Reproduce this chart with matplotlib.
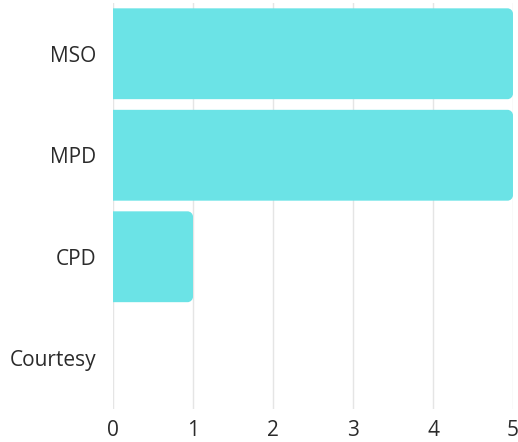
import matplotlib
matplotlib.use("Agg")
import matplotlib.pyplot as plt
from matplotlib.path import Path
from matplotlib.patches import PathPatch

categories = ["MSO", "MPD", "CPD", "Courtesy"]
counts = [5, 5, 1, 0]
x_ticks = [0, 1, 2, 3, 4, 5]

bar_color = "#6be3e6"
grid_color = "#e5e5e5"
text_color = "#2b2b2b"

plt.rcParams["font.family"] = ["Open Sans", "DejaVu Sans"]

fig = plt.figure(figsize=(5.18, 4.42), dpi=100)
ax = fig.add_axes([113 / 518, 1 - 409 / 442, 400 / 518, 406 / 442])

ypos = list(range(len(categories)))
bars = ax.barh(ypos, counts, height=0.895, color=bar_color, zorder=2)
ax.set_xlim(0, 5)
ax.set_ylim(len(categories) - 0.5, -0.5)

# Replace each bar with a shape rounded on its right-hand corners only
fig.canvas.draw()
px_per_x = ax.transData.transform((1, 0))[0] - ax.transData.transform((0, 0))[0]
px_per_y = abs(ax.transData.transform((0, 1))[1] - ax.transData.transform((0, 0))[1])
radius_px = 5.5
k = 0.5523
for rect in bars.patches:
    w = rect.get_width()
    if w <= 0:
        rect.set_visible(False)
        continue
    x0, y0 = rect.get_x(), rect.get_y()
    h = rect.get_height()
    x1, y1 = x0 + w, y0 + h
    rx = min(radius_px / px_per_x, w / 2)
    ry = min(radius_px / px_per_y, h / 2)
    verts = [
        (x0, y0),
        (x1 - rx, y0),
        (x1 - rx + k * rx, y0), (x1, y0 + ry - k * ry), (x1, y0 + ry),
        (x1, y1 - ry),
        (x1, y1 - ry + k * ry), (x1 - rx + k * rx, y1), (x1 - rx, y1),
        (x0, y1),
        (x0, y0),
    ]
    codes = [Path.MOVETO, Path.LINETO,
             Path.CURVE4, Path.CURVE4, Path.CURVE4,
             Path.LINETO,
             Path.CURVE4, Path.CURVE4, Path.CURVE4,
             Path.LINETO, Path.CLOSEPOLY]
    rect.set_visible(False)
    ax.add_patch(PathPatch(Path(verts, codes), facecolor=bar_color,
                           edgecolor="none", zorder=2))

ax.set_yticks(ypos)
ax.set_yticklabels(categories)
ax.set_xticks(x_ticks)
ax.set_xticklabels([str(t) for t in x_ticks])
ax.tick_params(axis="both", length=0, labelsize=15, labelcolor=text_color)
ax.tick_params(axis="y", pad=12)
ax.tick_params(axis="x", pad=8)

ax.grid(axis="x", color=grid_color, linewidth=1, zorder=0)
ax.grid(axis="y", visible=False)
for s in ax.spines.values():
    s.set_visible(False)

fig.savefig("out.png", dpi=100)
